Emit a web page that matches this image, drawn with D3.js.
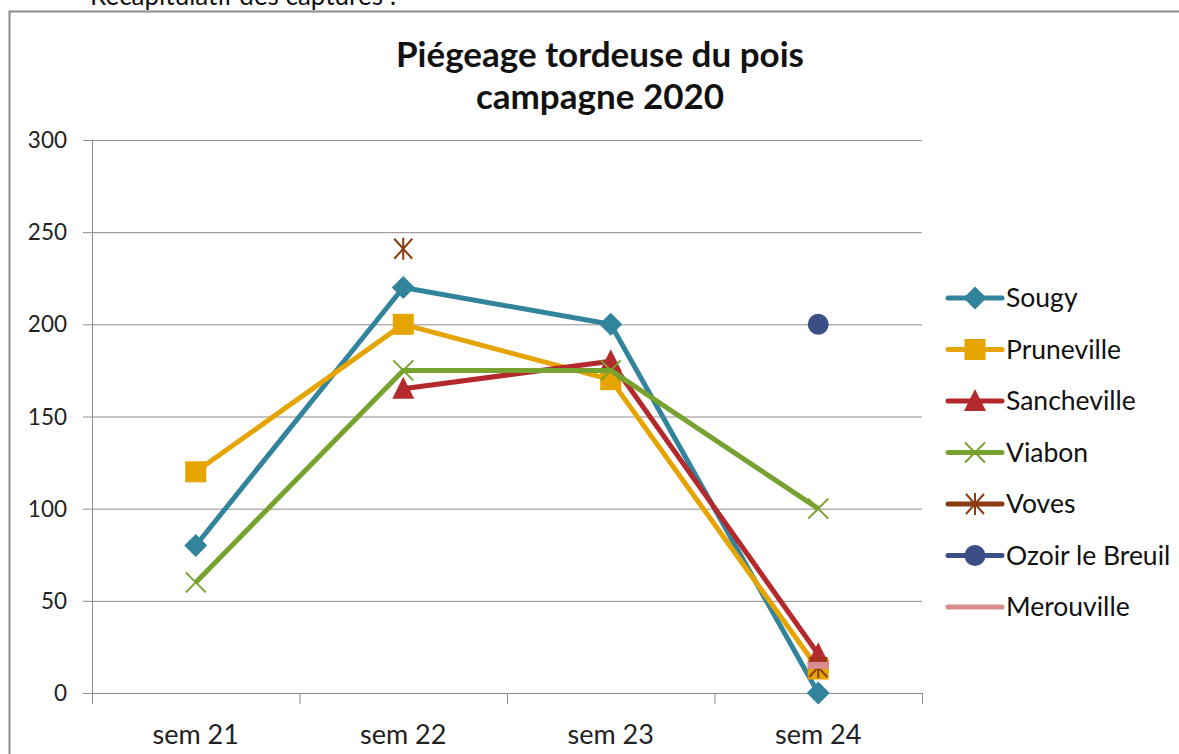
<!DOCTYPE html>
<html>
<head>
<meta charset="utf-8">
<script src="https://cdn.jsdelivr.net/npm/d3@7"></script>
<style>
  body { margin: 0; background: #fff; }
  svg { display: block; font-family: Lato, "Open Sans", sans-serif; }
</style>
</head>
<body>
<svg id="chart" width="1179" height="754"></svg>
<script>
var weeks = ['sem 21', 'sem 22', 'sem 23', 'sem 24'];
var yTicks = [0, 50, 100, 150, 200, 250, 300];

var seriesNames = ['Sougy', 'Pruneville', 'Sancheville', 'Viabon', 'Voves', 'Ozoir le Breuil', 'Merouville'];
var sougy = [80, 220, 200, 0];
var pruneville = [120, 200, 170, 13];
var sancheville = [null, 165, 180, 21];
var viabon = [60, 175, 175, 100];
var voves = [null, 241, null, 14];
var ozoir = [null, null, null, 200];
var merouville = [null, null, null, 15];

var seriesColors = ['#31849b', '#e5a400', '#b3292c', '#77a22f', '#8a3b0f', '#3b4e86', '#d98c8c'];
var seriesMarkers = ['diamond', 'square', 'triangle', 'x', 'star', 'circle', 'dash'];

var series = seriesNames.map(function (n, i) {
    return {
        name: n,
        values: [sougy, pruneville, sancheville, viabon, voves, ozoir, merouville][i],
        color: seriesColors[i],
        marker: seriesMarkers[i]
    };
});

var svg = d3.select('#chart');
var margin = { left: 92, right: 922, top: 140, bottom: 693 };

// outer frame of the chart object
svg.append('rect')
    .attr('x', 9.5).attr('y', 11.5)
    .attr('width', 1200).attr('height', 800)
    .attr('fill', 'none').attr('stroke', '#8c8c8c').attr('stroke-width', 2);

// text of the document above the chart, cut off by the crop
svg.append('text')
    .attr('x', 90).attr('y', 5)
    .attr('font-size', 26).attr('fill', '#111')
    .text('Récapitulatif des captures :');

var xs = d3.scaleBand().domain(weeks).range([margin.left, margin.right]);
var ys = d3.scaleLinear().domain([0, 300]).range([margin.bottom, margin.top]);

// horizontal grid
svg.append('g').selectAll('line').data(yTicks).enter().append('line')
    .attr('x1', margin.left - 9).attr('x2', margin.right)
    .attr('y1', function (d) { return ys(d) + 0.5; })
    .attr('y2', function (d) { return ys(d) + 0.5; })
    .attr('stroke', '#8c8c8c').attr('stroke-width', 1);

// y axis line
svg.append('line')
    .attr('x1', margin.left + 0.5).attr('x2', margin.left + 0.5)
    .attr('y1', margin.top).attr('y2', margin.bottom)
    .attr('stroke', '#8c8c8c');

// category ticks below the x axis
var bounds = weeks.map(function (w) { return xs(w); }).concat([margin.right]);
svg.append('g').selectAll('line').data(bounds).enter().append('line')
    .attr('x1', function (d) { return d + 0.5; })
    .attr('x2', function (d) { return d + 0.5; })
    .attr('y1', margin.bottom).attr('y2', margin.bottom + 11)
    .attr('stroke', '#8c8c8c');

svg.append('g').selectAll('text').data(yTicks).enter().append('text')
    .attr('x', 67).attr('y', function (d) { return ys(d) + 8; })
    .attr('text-anchor', 'end').attr('font-size', 22.5).attr('fill', '#222')
    .text(function (d) { return d; });

svg.append('g').selectAll('text').data(weeks).enter().append('text')
    .attr('x', function (d) { return xs(d) + xs.bandwidth() / 2; })
    .attr('y', 744)
    .attr('text-anchor', 'middle').attr('font-size', 27).attr('fill', '#222')
    .text(function (d) { return d; });

// title
var title = svg.append('text')
    .attr('x', 600).attr('text-anchor', 'middle')
    .attr('font-size', 35).attr('font-weight', 'bold').attr('fill', '#111');
title.append('tspan').attr('x', 600).attr('y', 67).text('Piégeage tordeuse du pois');
title.append('tspan').attr('x', 600).attr('y', 109).text('campagne 2020');

function cx(i) { return xs(weeks[i]) + xs.bandwidth() / 2; }

function drawMarker(g, type, x, y, color) {
    if (type === 'diamond') {
        g.append('path').attr('d', 'M' + x + ',' + (y - 11.5) + 'L' + (x + 11.5) + ',' + y + 'L' + x + ',' + (y + 11.5) + 'L' + (x - 11.5) + ',' + y + 'Z')
            .attr('fill', color);
    } else if (type === 'square') {
        g.append('rect').attr('x', x - 10.5).attr('y', y - 10.5).attr('width', 21).attr('height', 21).attr('fill', color);
    } else if (type === 'triangle') {
        g.append('path').attr('d', 'M' + x + ',' + (y - 12) + 'L' + (x + 11) + ',' + (y + 10) + 'L' + (x - 11) + ',' + (y + 10) + 'Z')
            .attr('fill', color);
    } else if (type === 'x') {
        g.append('path').attr('d', 'M' + (x - 10) + ',' + (y - 10) + 'L' + (x + 10) + ',' + (y + 10) + 'M' + (x + 10) + ',' + (y - 10) + 'L' + (x - 10) + ',' + (y + 10))
            .attr('stroke', color).attr('stroke-width', 2);
    } else if (type === 'star') {
        g.append('path').attr('d', 'M' + (x - 9) + ',' + (y - 10) + 'L' + (x + 9) + ',' + (y + 10) + 'M' + (x + 9) + ',' + (y - 10) + 'L' + (x - 9) + ',' + (y + 10) +
            'M' + x + ',' + (y - 11) + 'L' + x + ',' + (y + 11))
            .attr('stroke', color).attr('stroke-width', 2);
    } else if (type === 'circle') {
        g.append('circle').attr('cx', x).attr('cy', y).attr('r', 10.5).attr('fill', color);
    } else if (type === 'dash') {
        g.append('rect').attr('x', x - 10.5).attr('y', y - 3.5).attr('width', 21).attr('height', 7).attr('fill', color);
    }
}

var line = d3.line()
    .defined(function (d) { return d != null; })
    .x(function (d, i) { return cx(i); })
    .y(function (d) { return ys(d); });

var plot = svg.append('g');
series.forEach(function (s) {
    var g = plot.append('g');
    g.append('path').attr('d', line(s.values))
        .attr('fill', 'none').attr('stroke', s.color)
        .attr('stroke-width', 5).attr('stroke-linejoin', 'round');
    s.values.forEach(function (v, i) {
        if (v != null) drawMarker(g, s.marker, cx(i), ys(v), s.color);
    });
});

// legend
var legend = svg.append('g');
series.forEach(function (s, i) {
    var y = 298 + i * 51.5;
    var g = legend.append('g');
    g.append('line').attr('x1', 948).attr('x2', 1002).attr('y1', y).attr('y2', y)
        .attr('stroke', s.color).attr('stroke-width', 5).attr('stroke-linecap', 'round');
    if (s.marker !== 'dash') drawMarker(g, s.marker, 975, y, s.color);
    g.append('text').attr('x', 1006).attr('y', y + 9)
        .attr('font-size', 26.5).attr('fill', '#111').text(s.name);
});
</script>
</body>
</html>
